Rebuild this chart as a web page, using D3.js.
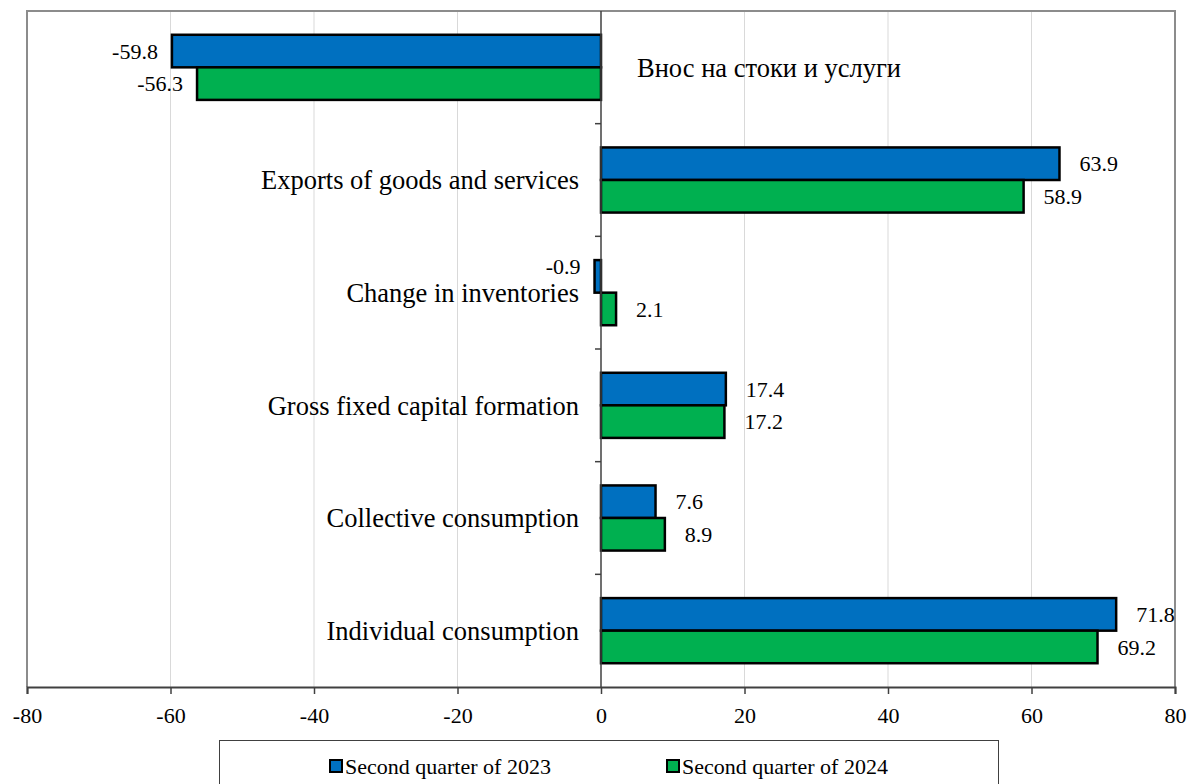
<!DOCTYPE html>
<html>
<head>
<meta charset="utf-8">
<script src="https://cdn.jsdelivr.net/npm/d3@7"></script>
<style>
  body { margin: 0; background: #fff; }
  svg { display: block; font-family: "Liberation Serif", "Times New Roman", serif; }
</style>
</head>
<body>
<div id="chart"></div>
<script>
// categories, top to bottom
const categories = [
  "Внос на стоки и услуги",
  "Exports of goods and services",
  "Change in inventories",
  "Gross fixed capital formation",
  "Collective consumption",
  "Individual consumption"
];
const seriesNames = ["Second quarter of 2023", "Second quarter of 2024"];
const q2023 = [-59.8, 63.9, -0.9, 17.4, 7.6, 71.8];
const q2024 = [-56.3, 58.9, 2.1, 17.2, 8.9, 69.2];
const xTicks = [-80, -60, -40, -20, 0, 20, 40, 60, 80];

const colors = ["#0070C0", "#00B050"];
const width = 1191, height = 784;
const plot = { left: 27, right: 1175, top: 11, bottom: 687 };

const svg = d3.select("#chart").append("svg")
    .attr("width", width)
    .attr("height", height);

const x = d3.scaleLinear().domain([-80, 80]).range([plot.left, plot.right]);
const y0 = d3.scaleBand().domain(categories).range([plot.top, plot.bottom]);
const y1 = d3.scaleBand().domain([0, 1]).range([0, y0.bandwidth()]).paddingOuter(0.73);

// gridlines
svg.append("g")
    .selectAll("line")
    .data(xTicks.filter(d => d !== 0 && Math.abs(d) !== 80))
    .enter().append("line")
    .attr("x1", d => x(d)).attr("x2", d => x(d))
    .attr("y1", plot.top).attr("y2", plot.bottom)
    .attr("stroke", "#d9d9d9").attr("stroke-width", 1);

// plot border (left, top, right)
svg.append("path")
    .attr("d", `M${plot.left},${plot.bottom}V${plot.top}H${plot.right}V${plot.bottom}`)
    .attr("fill", "none").attr("stroke", "#8c8c8c").attr("stroke-width", 2);

// bars
const rows = categories.map((c, i) => ({ cat: c, vals: [q2023[i], q2024[i]] }));
const groups = svg.append("g").selectAll("g")
    .data(rows)
    .enter().append("g")
    .attr("transform", d => "translate(0," + y0(d.cat) + ")");

groups.selectAll("rect")
    .data(d => d.vals.map((v, k) => ({ v, k })))
    .enter().append("rect")
    .attr("x", d => x(Math.min(0, d.v)))
    .attr("width", d => Math.abs(x(d.v) - x(0)))
    .attr("y", d => y1(d.k))
    .attr("height", y1.bandwidth())
    .attr("fill", d => colors[d.k])
    .attr("stroke", "#000")
    .attr("stroke-width", 2.5);

// category labels
groups.append("text")
    .attr("x", (d, i) => i === 0 ? x(0) + 36 : x(0) - 22)
    .attr("y", y0.bandwidth() / 2)
    .attr("dy", "0.35em")
    .attr("text-anchor", (d, i) => i === 0 ? "start" : "end")
    .attr("font-size", "26.5px")
    .text(d => d.cat);

// value labels (small negative label sits higher, clear of the category text)
groups.selectAll("text.val")
    .data(d => d.vals.map((v, k) => ({ v, k })))
    .enter().append("text")
    .attr("class", "val")
    .attr("x", d => d.v < 0 ? x(d.v) - 14 : x(d.v) + 20)
    .attr("y", d => y1(d.k) + y1.bandwidth() / 2 - (d.v < 0 && d.v > -5 ? 10 : 0))
    .attr("dy", "0.35em")
    .attr("text-anchor", d => d.v < 0 ? "end" : "start")
    .attr("font-size", "22px")
    .text(d => d.v.toFixed(1));

// zero line with ticks at band edges
svg.append("line")
    .attr("x1", x(0)).attr("x2", x(0))
    .attr("y1", plot.top).attr("y2", plot.bottom)
    .attr("stroke", "#404040").attr("stroke-width", 1.5);
svg.append("g").selectAll("line")
    .data(categories.slice(1))
    .enter().append("line")
    .attr("x1", x(0) - 6).attr("x2", x(0))
    .attr("y1", d => y0(d)).attr("y2", d => y0(d))
    .attr("stroke", "#404040").attr("stroke-width", 1.5);

// x axis
const xAxis = d3.axisBottom(x).tickValues(xTicks).tickSize(7).tickPadding(13)
    .tickFormat(d => String(d));
const gx = svg.append("g")
    .attr("transform", "translate(0," + plot.bottom + ")")
    .call(xAxis);
gx.select(".domain").attr("stroke", "#404040").attr("stroke-width", 2);
gx.selectAll(".tick line").attr("stroke", "#404040").attr("stroke-width", 1.5);
gx.selectAll(".tick text")
    .attr("font-family", "Liberation Serif, Times New Roman, serif")
    .attr("font-size", "22px")
    .attr("fill", "#000");

// legend
svg.append("rect")
    .attr("x", 219.5).attr("y", 740.5)
    .attr("width", 779).attr("height", 60)
    .attr("fill", "#fff").attr("stroke", "#404040").attr("stroke-width", 1);

const legendX = [330, 667];
const leg = svg.append("g").selectAll("g")
    .data(seriesNames)
    .enter().append("g")
    .attr("transform", (d, i) => "translate(" + legendX[i] + ",766)");
leg.append("rect")
    .attr("x", 0).attr("y", -6)
    .attr("width", 12).attr("height", 12)
    .attr("fill", (d, i) => colors[i])
    .attr("stroke", "#000").attr("stroke-width", 2);
leg.append("text")
    .attr("x", 15).attr("y", 0).attr("dy", "0.35em")
    .attr("font-size", "22px")
    .text(d => d);
</script>
</body>
</html>
